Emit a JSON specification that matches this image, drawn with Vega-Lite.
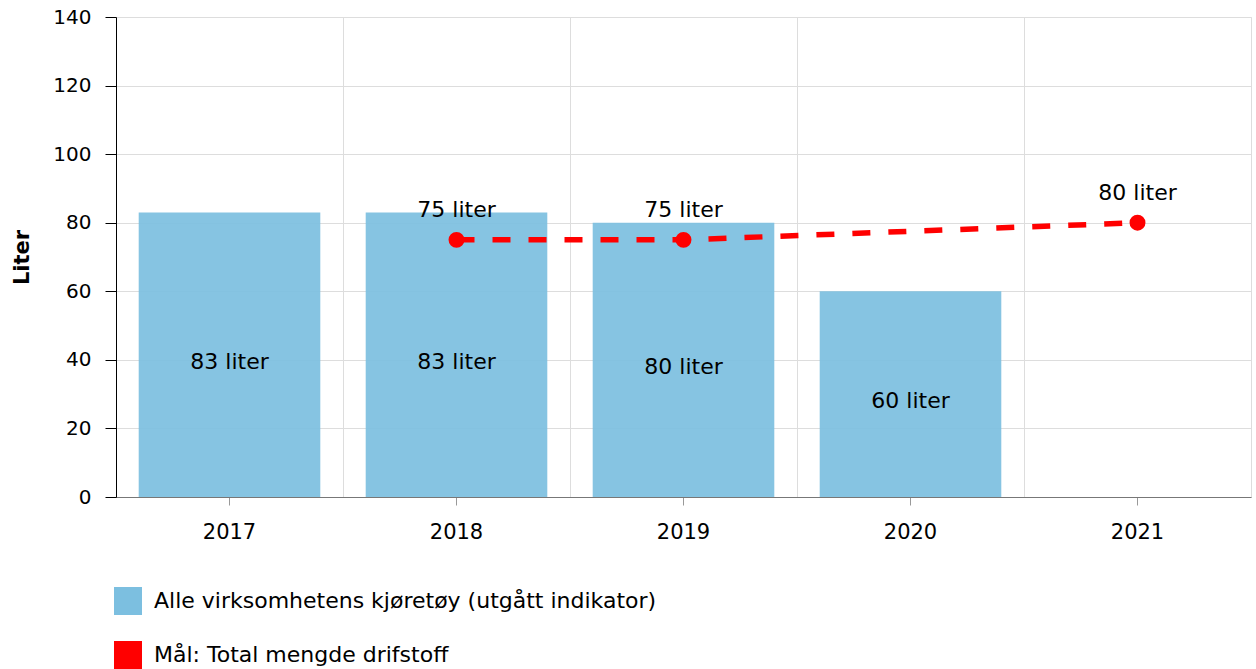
{
  "$schema": "https://vega.github.io/schema/vega-lite/v6.json",
  "width": 1135,
  "height": 480,
  "autosize": "none",
  "padding": {"left": 116, "top": 17, "right": 5, "bottom": 172},
  "config": {
    "font": "DejaVu Sans",
    "view": {"stroke": "#dddddd"},
    "axis": {"labelFontSize": 20, "labelColor": "#000000", "gridColor": "#dddddd", "labelFont": "DejaVu Sans"},
    "legend": {"orient": "none", "legendX": -2, "legendY": 570, "labelFontSize": 22, "labelColor": "#000000", "symbolType": "square", "symbolSize": 676, "labelOffset": 12, "rowPadding": 20, "symbolStrokeWidth": 2, "symbolOpacity": 1, "padding": 0, "labelLimit": 800, "direction": "vertical"}
  },
  "datasets": {
    "bars": [
      {"year": "2017", "value": 83, "label": "83 liter", "series": "Alle virksomhetens kjøretøy (utgått indikator)"},
      {"year": "2018", "value": 83, "label": "83 liter", "series": "Alle virksomhetens kjøretøy (utgått indikator)"},
      {"year": "2019", "value": 80, "label": "80 liter", "series": "Alle virksomhetens kjøretøy (utgått indikator)"},
      {"year": "2020", "value": 60, "label": "60 liter", "series": "Alle virksomhetens kjøretøy (utgått indikator)"}
    ],
    "goal": [
      {"year": "2018", "value": 75, "label": "75 liter", "series": "Mål: Total mengde drifstoff"},
      {"year": "2019", "value": 75, "label": "75 liter", "series": "Mål: Total mengde drifstoff"},
      {"year": "2021", "value": 80, "label": "80 liter", "series": "Mål: Total mengde drifstoff"}
    ]
  },
  "encoding": {
    "x": {
      "field": "year", "type": "ordinal",
      "scale": {"domain": ["2017", "2018", "2019", "2020", "2021"], "paddingInner": 0.2, "paddingOuter": 0.1}
    },
    "color": {
      "field": "series", "type": "nominal",
      "scale": {"domain": ["Alle virksomhetens kjøretøy (utgått indikator)", "Mål: Total mengde drifstoff"], "range": ["#7cbfe0", "#ff0000"]},
      "legend": {"title": null}
    }
  },
  "layer": [
    {
      "data": {"name": "bars"},
      "mark": {"type": "bar", "fillOpacity": 0.92},
      "encoding": {
        "x": {
          "field": "year", "type": "ordinal",
          "axis": {"title": null, "labelAngle": 0, "labelFontSize": 21, "tickSize": 8, "tickColor": "#999999", "domainColor": "#777777", "grid": false, "labelPadding": 16}
        },
        "y": {
          "field": "value", "type": "quantitative",
          "scale": {"domain": [0, 140], "nice": false},
          "axis": {"title": "Liter", "titleFontSize": 21, "titleFontWeight": "bold", "titleColor": "#000000", "titlePadding": 20, "values": [0, 20, 40, 60, 80, 100, 120, 140], "grid": true, "domainColor": "#000000", "tickColor": "#000000", "tickSize": 11, "labelPadding": 14}
        }
      }
    },
    {
      "data": {"name": "goal"},
      "mark": {"type": "line", "strokeWidth": 5.5, "strokeDash": [18, 18]},
      "encoding": {
        "x": {
          "field": "year", "type": "ordinal",
          "axis": {"orient": "top", "grid": true, "bandPosition": -0.125, "labels": false, "ticks": false, "domain": false, "title": null}
        },
        "y": {"field": "value", "type": "quantitative", "scale": {"domain": [0, 140], "nice": false}, "axis": null}
      }
    },
    {
      "data": {"name": "goal"},
      "mark": {"type": "point", "filled": true, "size": 254, "opacity": 1},
      "encoding": {
        "x": {"field": "year", "type": "ordinal", "axis": null},
        "y": {"field": "value", "type": "quantitative", "scale": {"domain": [0, 140], "nice": false}, "axis": null}
      }
    },
    {
      "data": {"name": "goal"},
      "mark": {"type": "text", "fontSize": 22, "dy": -30, "baseline": "middle", "color": "#000000"},
      "encoding": {
        "x": {"field": "year", "type": "ordinal", "axis": null},
        "y": {"field": "value", "type": "quantitative", "scale": {"domain": [0, 140], "nice": false}, "axis": null},
        "text": {"field": "label"},
        "color": {"value": "#000000"}
      }
    },
    {
      "data": {"name": "bars"},
      "mark": {"type": "text", "fontSize": 22, "dy": 7, "baseline": "middle", "color": "#000000"},
      "encoding": {
        "x": {"field": "year", "type": "ordinal", "axis": null},
        "y": {"field": "value", "type": "quantitative", "scale": {"domain": [0, 280], "nice": false}, "axis": null},
        "text": {"field": "label"},
        "color": {"value": "#000000"}
      }
    }
  ],
  "resolve": {"scale": {"y": "independent"}, "axis": {"x": "independent", "y": "independent"}}
}
